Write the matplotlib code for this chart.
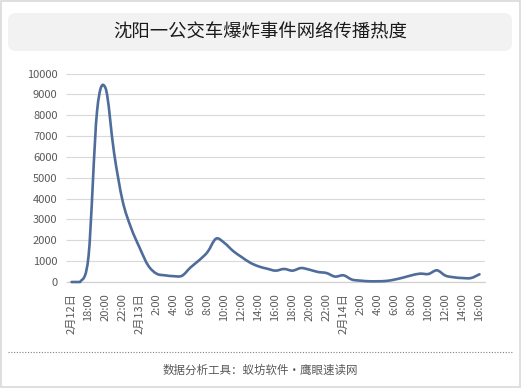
import matplotlib
matplotlib.use('Agg')
import matplotlib.pyplot as plt
from matplotlib.path import Path
from matplotlib.patches import PathPatch, FancyBboxPatch, Rectangle
from matplotlib.lines import Line2D
import numpy as np

plt.rcParams['font.family'] = ['Noto Sans CJK SC', 'DejaVu Sans']

# hourly heat, 2月12日 16:00 -> 2月14日 16:00
heat = [0, 0, 1250, 8200, 9300, 6200, 3900, 2600, 1650, 800,
        400, 320, 280, 300, 700, 1040, 1440, 2080, 1870, 1490,
        1200, 930, 750, 640, 545, 625, 545, 670, 590, 480,
        430, 260, 320, 115, 65, 35, 35, 50, 115, 210,
        320, 400, 385, 560, 305, 225, 190, 190, 370]

tick_labels = ['2月12日', '18:00', '20:00', '22:00',
               '2月13日', '2:00', '4:00', '6:00', '8:00', '10:00', '12:00', '14:00', '16:00',
               '18:00', '20:00', '22:00',
               '2月14日', '2:00', '4:00', '6:00', '8:00', '10:00', '12:00', '14:00', '16:00']
y_ticks = list(range(0, 10001, 1000))

title = '沈阳一公交车爆炸事件网络传播热度'
source = '数据分析工具：蚁坊软件·鹰眼速读网'

fig = plt.figure(figsize=(5.21, 3.88), dpi=100)
ax = fig.add_axes([68/521, 106/388, 417/521, 208.4/388])

# smoothed line (bezier through every point, like the office "smooth line")
x = np.arange(len(heat), dtype=float)
y = np.array(heat, dtype=float)
verts = [(x[0], y[0])]
codes = [Path.MOVETO]
n = len(x)
for i in range(n - 1):
    p0 = (x[max(i-1, 0)], y[max(i-1, 0)])
    p1 = (x[i], y[i])
    p2 = (x[i+1], y[i+1])
    p3 = (x[min(i+2, n-1)], y[min(i+2, n-1)])
    c1 = (p1[0] + (p2[0]-p0[0])/6, max(0, p1[1] + (p2[1]-p0[1])/6))
    c2 = (p2[0] - (p3[0]-p1[0])/6, max(0, p2[1] - (p3[1]-p1[1])/6))
    verts += [c1, c2, p2]
    codes += [Path.CURVE4]*3
ax.add_patch(PathPatch(Path(verts, codes), fill=False, edgecolor='#4f6d9a',
                       lw=1.9, capstyle='round', joinstyle='round', zorder=3,
                       clip_on=False))

ax.set_xlim(-0.42, 48.65)
ax.set_ylim(0, 10000)
ax.set_yticks(y_ticks)
ax.set_yticklabels([str(v) for v in y_ticks])
ax.set_xticks(range(0, len(heat), 2))
ax.set_xticklabels(tick_labels, rotation=90, va='top', ha='center')
ax.tick_params(axis='both', labelsize=8, labelcolor='#595959')
ax.tick_params(axis='x', length=0, pad=8)
ax.tick_params(axis='y', length=3, direction='inout', color='#d9d9d9', width=0.8, pad=6)
ax.grid(axis='y', color='#d9d9d9', lw=0.8)
for s in ['top', 'right', 'left']:
    ax.spines[s].set_visible(False)
ax.spines['bottom'].set_color('#d0d0d0')
ax.spines['bottom'].set_linewidth(0.9)
ax.set_axisbelow(True)

# outer border
fig.add_artist(Rectangle((0.001, 0.0015), 0.998, 0.997, transform=fig.transFigure,
                         fill=False, edgecolor='#d9d9d9', lw=1.2))

# title box
fig.add_artist(FancyBboxPatch((0.08, 3.37), 5.04, 0.38, transform=fig.dpi_scale_trans,
                              boxstyle='round,pad=0,rounding_size=0.08',
                              facecolor='#f2f2f2', edgecolor='none'))
fig.text(0.5, 356/388, title, ha='center', va='center', fontsize=13.2, color='#1a1a1a')

# dotted separator and source
fig.add_artist(Line2D([8/521, 513/521], [36/388, 36/388], transform=fig.transFigure,
                      color='#808080', lw=0.8, ls=(0, (1, 1.5))))
fig.text(0.5, 18/388, source, ha='center', va='center', fontsize=8.3, color='#595959')

fig.savefig('out.png', dpi=100)
